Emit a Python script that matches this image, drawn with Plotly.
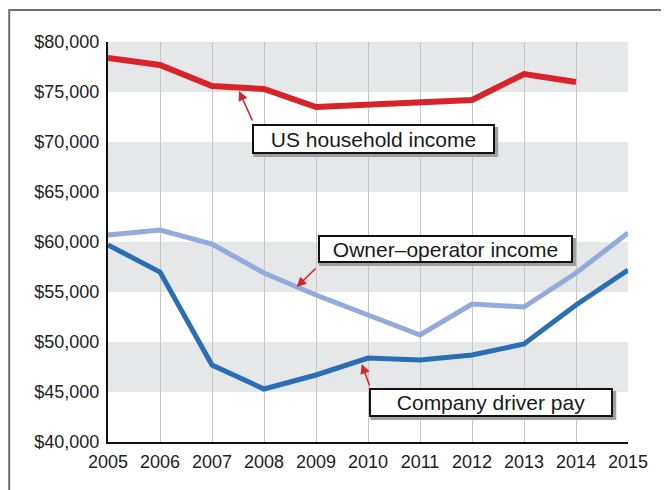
import plotly.graph_objects as go

years = list(range(2005, 2016))
household = [78400, 77700, 75600, 75300, 73500, 73700, 73900, 74200, 76800, 76000]
owner_op = [60700, 61200, 59800, 56900, 54700, 52700, 50700, 53800, 53500, 56900, 60900]
company = [59700, 57000, 47700, 45300, 46700, 48400, 48200, 48700, 49800, 53700, 57200]
y_ticks = list(range(40000, 80001, 5000))
y_labels = ["$" + format(v, ",") for v in y_ticks]
bands = [(75000, 80000), (65000, 70000), (55000, 60000), (45000, 50000)]

fig = go.Figure()
fig.add_trace(go.Scatter(x=years[:len(household)], y=household, mode="lines",
                         line=dict(color="#d9232b", width=6)))
fig.add_trace(go.Scatter(x=years, y=owner_op, mode="lines",
                         line=dict(color="#93abdc", width=5)))
fig.add_trace(go.Scatter(x=years, y=company, mode="lines",
                         line=dict(color="#2a6fb4", width=5)))

shapes = []
for lo, hi in bands:
    shapes.append(dict(type="rect", xref="paper", x0=0, x1=1, yref="y", y0=lo, y1=hi,
                       fillcolor="#e6e7e9", line=dict(width=0), layer="below"))
# outer frame (only left and top fall inside the page)
shapes.append(dict(type="rect", xref="paper", yref="paper", x0=-0.19, x1=1.2,
                   y0=-0.2, y1=1.08, line=dict(color="#707070", width=2),
                   fillcolor="rgba(0,0,0,0)"))

# label boxes: text, x centre, y centre, width, height
boxes = [("US household income", 2010.11, 70300, 239, 26),
         ("Owner\u2013operator income", 2011.49, 59300, 251, 24),
         ("Company driver pay", 2012.37, 43950, 240, 25)]
# arrows: tail x, tail y, head x, head y
arrows = [(2007.79, 72000, 2007.52, 75100),
          (2009.02, 57500, 2008.63, 55500),
          (2010.04, 45500, 2009.88, 47800)]

ann = []
for t, bx, by, w, h in boxes:
    # soft drop shadow behind each box
    shapes.append(dict(type="rect", xref="x", yref="y", xsizemode="pixel", ysizemode="pixel",
                       xanchor=bx, yanchor=by, x0=-w / 2 - 1, x1=w / 2 + 5,
                       y0=-h / 2 - 5, y1=h / 2 - 1, fillcolor="#a0a0a0",
                       line=dict(width=0), layer="above"))
    ann.append(dict(x=bx, y=by, text=t, showarrow=False,
                    width=w, height=h, bgcolor="white", bordercolor="#111111",
                    borderwidth=2, borderpad=0, font=dict(size=21, color="#1a1a1a")))
for tx, ty, hx, hy in arrows:
    ann.append(dict(x=hx, y=hy, ax=tx, ay=ty, axref="x", ayref="y", text="",
                    showarrow=True, arrowhead=2, arrowsize=1.2, arrowwidth=1.6,
                    arrowcolor="#d0262c"))

# the page body adds an 8px offset, so the figure is 8px smaller
fig.update_layout(
    width=661, height=482,
    margin=dict(l=100, r=41, t=34, b=48),
    plot_bgcolor="white", paper_bgcolor="white",
    showlegend=False,
    font=dict(family="Liberation Sans, Arial, sans-serif", size=18, color="#222222"),
    shapes=shapes, annotations=ann,
    xaxis=dict(range=[2005, 2015], tickvals=years, showgrid=True, gridcolor="#c6c6c6",
               gridwidth=1, zeroline=False, showline=True, linecolor="#111111",
               linewidth=2, ticks="outside", ticklen=2, tickcolor="rgba(0,0,0,0)"),
    yaxis=dict(range=[40000, 80000], tickvals=y_ticks, ticktext=y_labels,
               showgrid=False, zeroline=False, showline=True, linecolor="#111111",
               linewidth=2, ticks="outside", ticklen=3, tickcolor="rgba(0,0,0,0)"),
)

fig.write_html("out.html")
